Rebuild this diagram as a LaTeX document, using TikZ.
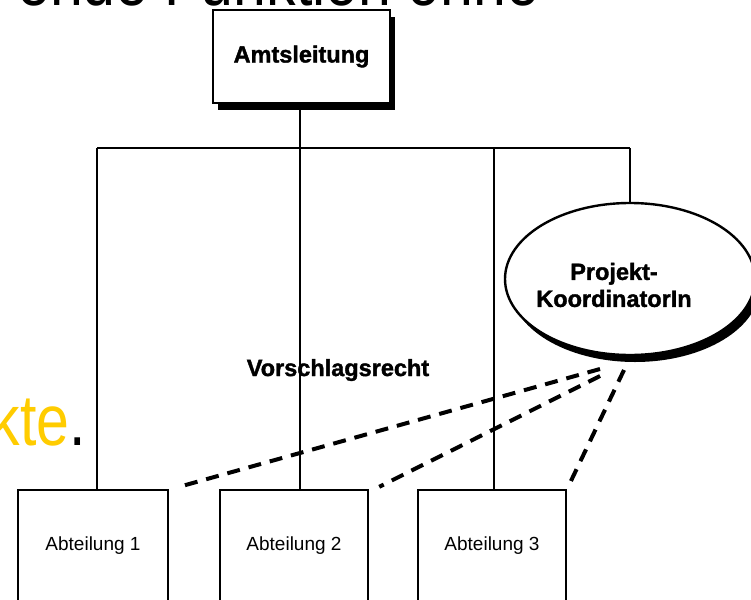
\documentclass[tikz,border=0pt]{standalone}
\usepackage{fontspec}
\setmainfont{Liberation Sans}
\newfontfamily\slidefont[FakeStretch=0.82]{Liberation Sans}
\newfontfamily\heavyfont[FakeBold=1.5]{Liberation Sans Bold}
\usepackage{xcolor}
\usetikzlibrary{shapes.geometric,shadows,positioning}

\definecolor{slideyellow}{HTML}{FFCC00}

\tikzset{
    orgbox/.style={draw, line width=2.4pt, fill=white, inner sep=0pt, align=center},
    blackshadow/.style={drop shadow={shadow xshift=5pt, shadow yshift=-7pt, fill=black, opacity=1}},
    orgline/.style={line width=2.4pt},
    proposal/.style={line width=4pt, dash pattern=on 13pt off 9pt},
    boldlabel/.style={font=\heavyfont\fontsize{23.5}{27}\selectfont},
    slidetext/.style={inner sep=0pt, font=\slidefont\fontsize{72}{80}\selectfont}
}

\begin{document}
\begin{tikzpicture}[x=1pt, y=-1pt]
    \useasboundingbox (0,0) rectangle (751,599);
    \clip (0,0) rectangle (751,599);
    \fill[white] (0,0) rectangle (751,599);

    % Slide text cut off at the edges
    \node[slidetext, anchor=base west] (slidetop) at (17,6) {ende Funktion ohne};
    \node[slidetext, anchor=base east] (slideleft) at (86,445) {\textcolor{slideyellow}{kte}.};

    % Amtsleitung
    \node[orgbox, blackshadow, boldlabel, minimum width=177pt, minimum height=93pt] (amt) at (301.5,56.5) {Amtsleitung};

    % Projekt-KoordinatorIn (text sits left of the centre)
    \node[orgbox, ellipse, blackshadow, minimum width=250pt, minimum height=152pt] (koord) at (630,279) {};
    \node[boldlabel, align=center] (koordtext) at ([shift={(-16,6)}]koord.center) {Projekt-\\KoordinatorIn};

    % Abteilungen (bottom edge below the page)
    \node[orgbox, font=\fontsize{19}{23}\selectfont, minimum width=150pt, minimum height=112pt] (abt1) at (93,546) {Abteilung 1};
    \node[orgbox, font=\fontsize{19}{23}\selectfont, minimum width=148pt, minimum height=112pt] (abt2) at (294,546) {Abteilung 2};
    \node[orgbox, font=\fontsize{19}{23}\selectfont, minimum width=148pt, minimum height=112pt] (abt3) at (492,546) {Abteilung 3};

    % Line structure
    \coordinate (busL) at (97,148);
    \coordinate (busM) at (300,148);
    \coordinate (busN) at (494,148);
    \coordinate (busR) at (630,148);
    \draw[orgline] (amt.south -| busM) -- (busM);
    \draw[orgline] (busL) -- (busR);
    \draw[orgline] (busL) -- (busL |- abt1.north);
    \draw[orgline] (busM) -- (busM |- abt2.north);
    \draw[orgline] (busN) -- (busN |- abt3.north);
    \draw[orgline] (busR) -- (koord.north);

    \node[boldlabel] (vorschlag) at (338,370) {Vorschlagsrecht};

    % Dashed lines of the KoordinatorIn
    \coordinate (tipA) at (600,369);
    \coordinate (tipB) at (600,376);
    \coordinate (tipC) at (624,370);
    \coordinate (endA) at ([shift={(10,-2)}]abt1.north east);
    \coordinate (endB) at ([shift={(10,-2)}]abt2.north east);
    \draw[proposal] (tipA) -- (endA);
    \draw[proposal] (tipB) -- (endB);
    \draw[proposal] (tipC) -- (abt3.north east);
\end{tikzpicture}
\end{document}
